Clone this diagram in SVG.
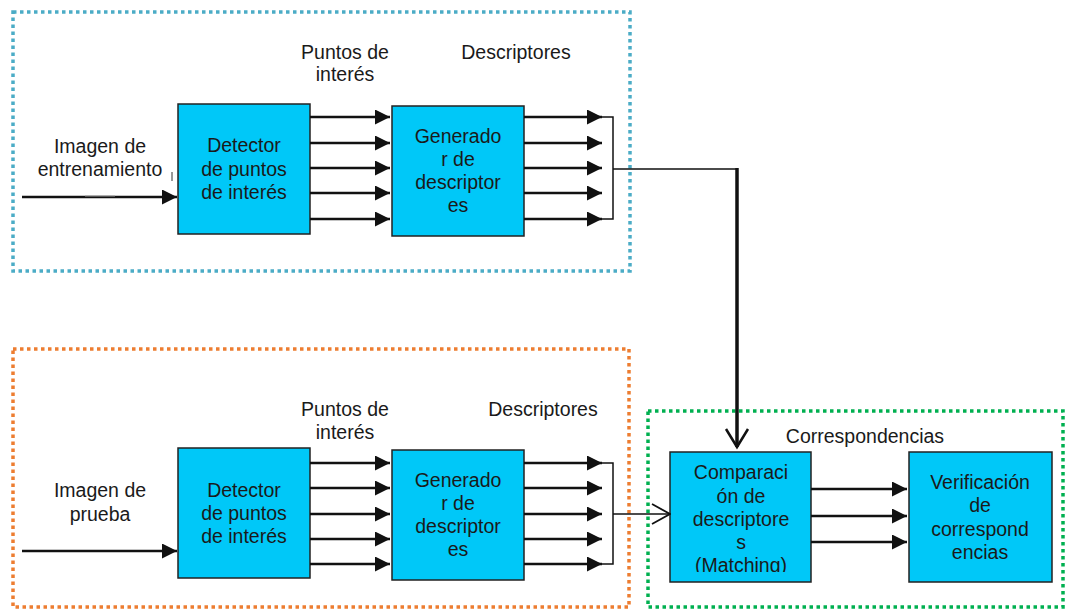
<svg xmlns="http://www.w3.org/2000/svg" width="1065" height="610" viewBox="0 0 1065 610">
<style>
.t{font-family:"Liberation Sans",Arial,sans-serif;font-size:19.5px;fill:#1a1a1a;text-anchor:middle}
.box{fill:#00c8f8;stroke:#222;stroke-width:1.5}
.ln{stroke:#111;stroke-width:2.5;fill:none}
.thin{stroke:#111;stroke-width:1.5;fill:none}
.dot{fill:none;stroke-width:3.5;stroke-dasharray:3.5 3.5}
</style>
<defs>
<marker id="ah" markerUnits="userSpaceOnUse" markerWidth="15" markerHeight="15" refX="15" refY="7.5" orient="auto">
<path d="M0,0 L15,7.5 L0,15 Z" fill="#111"/>
</marker>
<marker id="oh" markerUnits="userSpaceOnUse" markerWidth="20" markerHeight="22" refX="19" refY="11" orient="auto">
<path d="M1,1 L19,11 L1,21" fill="none" stroke="#111" stroke-width="1.8"/>
</marker>
<clipPath id="cmp"><rect x="670" y="452" width="141" height="120"/></clipPath>
</defs>

<g id="frames">
<rect class="dot" x="13" y="12" width="617" height="259" stroke="#4bacc6"/>
<rect class="dot" x="13" y="349" width="616" height="258" stroke="#ed7d31"/>
<rect class="dot" x="648" y="411" width="415" height="196" stroke="#00b050"/>
</g>

<g id="labels">
<text class="t" x="345" y="59">Puntos de</text>
<text class="t" x="345" y="81">interés</text>
<text class="t" x="516" y="59">Descriptores</text>
<text class="t" x="100" y="153">Imagen de</text>
<text class="t" x="100" y="176">entrenamiento</text>
<text class="t" x="345" y="416">Puntos de</text>
<text class="t" x="345" y="439">interés</text>
<text class="t" x="543" y="416">Descriptores</text>
<text class="t" x="100" y="497">Imagen de</text>
<text class="t" x="100" y="521">prueba</text>
<text class="t" x="865" y="443">Correspondencias</text>
</g>

<g id="det1"><rect class="box" x="178" y="104" width="132" height="130"/>
<text class="t" x="244" y="152">Detector</text><text class="t" x="244" y="176">de puntos</text><text class="t" x="244" y="199">de interés</text></g>
<g id="gen1"><rect class="box" x="392" y="106" width="132" height="130"/>
<text class="t" x="458" y="143">Generado</text><text class="t" x="458" y="166">r de</text><text class="t" x="458" y="189">descriptor</text><text class="t" x="458" y="212">es</text></g>
<g id="det2"><rect class="box" x="178" y="448" width="132" height="130"/>
<text class="t" x="244" y="497">Detector</text><text class="t" x="244" y="520">de puntos</text><text class="t" x="244" y="543">de interés</text></g>
<g id="gen2"><rect class="box" x="392" y="450" width="132" height="130"/>
<text class="t" x="458" y="487">Generado</text><text class="t" x="458" y="510">r de</text><text class="t" x="458" y="533">descriptor</text><text class="t" x="458" y="556">es</text></g>
<g id="cmpnode"><rect class="box" x="670" y="452" width="141" height="130"/>
<g clip-path="url(#cmp)"><text class="t" x="741" y="479">Comparaci</text><text class="t" x="741" y="503">ón de</text><text class="t" x="741" y="526">descriptore</text><text class="t" x="741" y="549">s</text><text class="t" x="741" y="572">(Matching)</text></g></g>
<g id="ver"><rect class="box" x="909" y="452" width="143" height="130"/>
<text class="t" x="980" y="489">Verificación</text><text class="t" x="980" y="512">de</text><text class="t" x="980" y="536">correspond</text><text class="t" x="980" y="559">encias</text></g>

<g id="connectors">
<line class="ln" x1="22" y1="197" x2="177" y2="197" marker-end="url(#ah)"/>
<line x1="85" y1="196" x2="115" y2="196" stroke="#999" stroke-width="1"/>
<line x1="172" y1="172" x2="172" y2="181" stroke="#333" stroke-width="1"/>
<line class="ln" x1="310" y1="117" x2="390" y2="117" marker-end="url(#ah)"/>
<line class="ln" x1="310" y1="143" x2="390" y2="143" marker-end="url(#ah)"/>
<line class="ln" x1="310" y1="168" x2="390" y2="168" marker-end="url(#ah)"/>
<line class="ln" x1="310" y1="193" x2="390" y2="193" marker-end="url(#ah)"/>
<line class="ln" x1="310" y1="219" x2="390" y2="219" marker-end="url(#ah)"/>
<line class="ln" x1="524" y1="117" x2="602" y2="117" marker-end="url(#ah)"/>
<line class="ln" x1="524" y1="143" x2="602" y2="143" marker-end="url(#ah)"/>
<line class="ln" x1="524" y1="168" x2="602" y2="168" marker-end="url(#ah)"/>
<line class="ln" x1="524" y1="193" x2="602" y2="193" marker-end="url(#ah)"/>
<line class="ln" x1="524" y1="219" x2="602" y2="219" marker-end="url(#ah)"/>
<path class="thin" d="M602,117 H613 V219 H602 M613,169 H737"/>
<line x1="737" y1="168" x2="737" y2="447" stroke="#111" stroke-width="3.5"/>
<path d="M726,429 L737,447 L748,429" fill="none" stroke="#111" stroke-width="2.5"/>

<line class="ln" x1="22" y1="551" x2="177" y2="551" marker-end="url(#ah)"/>
<line class="ln" x1="310" y1="463" x2="390" y2="463" marker-end="url(#ah)"/>
<line class="ln" x1="310" y1="488" x2="390" y2="488" marker-end="url(#ah)"/>
<line class="ln" x1="310" y1="514" x2="390" y2="514" marker-end="url(#ah)"/>
<line class="ln" x1="310" y1="539" x2="390" y2="539" marker-end="url(#ah)"/>
<line class="ln" x1="310" y1="564" x2="390" y2="564" marker-end="url(#ah)"/>
<line class="ln" x1="524" y1="463" x2="602" y2="463" marker-end="url(#ah)"/>
<line class="ln" x1="524" y1="488" x2="602" y2="488" marker-end="url(#ah)"/>
<line class="ln" x1="524" y1="514" x2="602" y2="514" marker-end="url(#ah)"/>
<line class="ln" x1="524" y1="539" x2="602" y2="539" marker-end="url(#ah)"/>
<line class="ln" x1="524" y1="564" x2="602" y2="564" marker-end="url(#ah)"/>
<path class="thin" d="M602,463 H613 V564 H602"/>
<line class="thin" x1="613" y1="514" x2="670" y2="514" marker-end="url(#oh)"/>

<line class="ln" x1="811" y1="489" x2="907" y2="489" marker-end="url(#ah)"/>
<line class="ln" x1="811" y1="516" x2="907" y2="516" marker-end="url(#ah)"/>
<line class="ln" x1="811" y1="542" x2="907" y2="542" marker-end="url(#ah)"/>
</g>
</svg>
